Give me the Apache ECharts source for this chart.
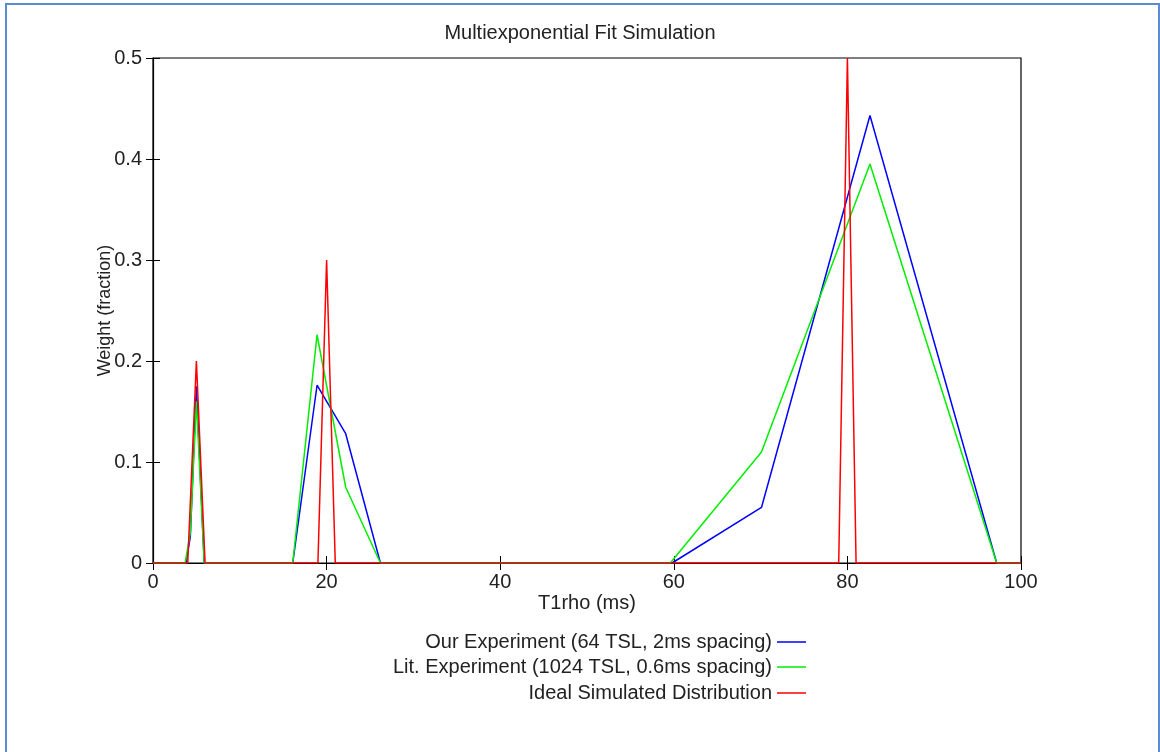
<!DOCTYPE html>
<html>
<head>
<meta charset="utf-8">
<script src="https://cdn.jsdelivr.net/npm/echarts@6/dist/echarts.min.js"></script>
<style>html,body{margin:0;padding:0;background:#fff;}#c{width:1160px;height:752px;}</style>
</head>
<body>
<div id="c"></div>
<script>
const chartTitle = 'Multiexponential Fit Simulation';
const xAxisName = 'T1rho (ms)';
const yAxisName = 'Weight (fraction)';
const xTicks = [0, 20, 40, 60, 80, 100];
const yTicks = [0, 0.1, 0.2, 0.3, 0.4, 0.5];

const seriesNames = [
  'Our Experiment (64 TSL, 2ms spacing)',
  'Lit. Experiment (1024 TSL, 0.6ms spacing)',
  'Ideal Simulated Distribution'
];

const ourX = [0, 3.8, 4.3, 5.0, 5.9, 16.1, 18.9, 22.2, 26.2, 59.8, 70.1, 82.6, 97.2, 100];
const ourY = [0, 0, 0.026, 0.175, 0, 0, 0.176, 0.128, 0, 0, 0.055, 0.443, 0, 0];

const litX = [0, 3.7, 4.3, 5.0, 5.9, 16.1, 18.9, 22.2, 26.2, 59.6, 70.1, 82.6, 97.2, 100];
const litY = [0, 0, 0.03, 0.16, 0, 0, 0.226, 0.075, 0, 0, 0.11, 0.395, 0, 0];

const idealX = [0, 4, 5, 6, 19, 20, 21, 79, 80, 81, 100];
const idealY = [0, 0, 0.2, 0, 0, 0.3, 0, 0, 0.5, 0, 0];

const colors = ['#0000ff', '#00ee00', '#ff0000'];

function pairs(xs, ys) { return xs.map((x, i) => [x, ys[i]]); }

const font = '"Liberation Sans", Arial, sans-serif';
const chart = echarts.init(document.getElementById('c'));

const gridPos = { left: 153, right: 139, top: 58, bottom: 189 };

const legendRows = [632, 657, 683];
const legends = seriesNames.map((n, i) => ({
  data: [n],
  right: 354,
  top: legendRows[i],
  padding: 0,
  align: 'right',
  orient: 'vertical',
  icon: 'rect',
  itemWidth: 29,
  itemHeight: 1.5,
  itemGap: 0,
  selectedMode: false,
  textStyle: { fontFamily: font, fontSize: 20, color: '#222' }
}));

chart.setOption({
  animation: false,
  backgroundColor: '#fff',
  title: {
    text: chartTitle,
    left: 'center',
    top: 18,
    textStyle: { fontFamily: font, fontSize: 20, fontWeight: 'normal', color: '#222' }
  },
  legend: legends,
  grid: Object.assign({ show: true, borderColor: '#000', borderWidth: 1.2, backgroundColor: 'transparent' }, gridPos),
  xAxis: [{
    type: 'value', min: 0, max: 100, interval: 20,
    name: xAxisName, nameLocation: 'middle', nameGap: 30, nameMoveOverlap: false,
    nameTextStyle: { fontFamily: font, fontSize: 20, color: '#222' },
    axisLine: { show: true, lineStyle: { color: '#000', width: 1.2 } },
    axisTick: { show: true, inside: true, length: 7, lineStyle: { color: '#000' } },
    axisLabel: { fontFamily: font, fontSize: 20, color: '#222', margin: 9,
      formatter: v => xTicks.includes(v) ? String(v) : '' },
    splitLine: { show: false }
  }, {
    type: 'value', min: 0, max: 100, interval: 20, position: 'top',
    axisLine: { show: false },
    axisTick: { show: true, inside: true, length: 7, lineStyle: { color: '#000' } },
    axisLabel: { show: false }, splitLine: { show: false }
  }],
  yAxis: [{
    type: 'value', min: 0, max: 0.5, interval: 0.1,
    name: yAxisName, nameLocation: 'middle', nameGap: 39, nameRotate: 90, nameMoveOverlap: false,
    nameTextStyle: { fontFamily: font, fontSize: 18, color: '#222' },
    axisLine: { show: true, lineStyle: { color: '#000', width: 1.2 } },
    axisTick: { show: true, inside: true, length: 7, lineStyle: { color: '#000' } },
    axisLabel: { fontFamily: font, fontSize: 20, color: '#222', margin: 11,
      formatter: v => { const t = yTicks.find(y => Math.abs(y - v) < 1e-9); return t === undefined ? '' : String(+t.toFixed(1)); } },
    splitLine: { show: false }
  }, {
    type: 'value', min: 0, max: 0.5, interval: 0.1, position: 'right',
    axisLine: { show: false },
    axisTick: { show: true, inside: true, length: 7, lineStyle: { color: '#000' } },
    axisLabel: { show: false }, splitLine: { show: false }
  }],
  series: [
    { name: seriesNames[0], type: 'line', data: pairs(ourX, ourY), showSymbol: false, symbol: 'none',
      lineStyle: { color: colors[0], width: 1.5 }, itemStyle: { color: colors[0] } },
    { name: seriesNames[1], type: 'line', data: pairs(litX, litY), showSymbol: false, symbol: 'none',
      lineStyle: { color: colors[1], width: 1.5 }, itemStyle: { color: colors[1] } },
    { name: seriesNames[2], type: 'line', data: pairs(idealX, idealY), showSymbol: false, symbol: 'none',
      lineStyle: { color: colors[2], width: 1.5 }, itemStyle: { color: colors[2] } }
  ],
  graphic: [{
    type: 'rect', silent: true,
    shape: { x: 6, y: 4, width: 1153, height: 760 },
    style: { fill: 'none', stroke: '#5b8bd0', lineWidth: 2 }
  }]
});
</script>
</body>
</html>
